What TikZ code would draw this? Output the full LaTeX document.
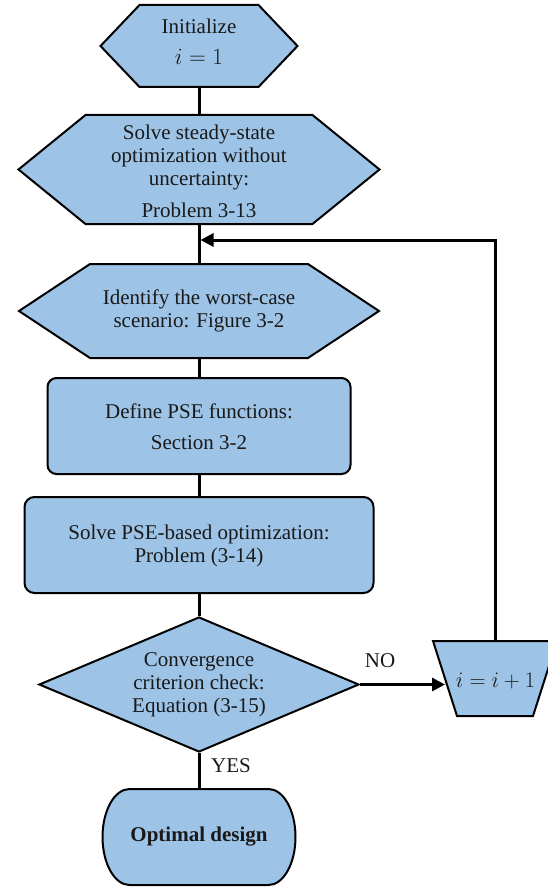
\documentclass[tikz,border=0pt]{standalone}
\usepackage{fontspec}
\setmainfont{Liberation Serif}
\usetikzlibrary{calc,arrows.meta,shapes.geometric}
\definecolor{boxfill}{HTML}{9DC3E6}

% hexagon drawn over an empty holder node: #1 = node name, #2 = corner inset
\newcommand{\drawhexagon}[2]{%
  \path[frame] (#1.west) -- ($(#1.north west)+(#2,0)$) -- ($(#1.north east)+(-#2,0)$)
    -- (#1.east) -- ($(#1.south east)+(-#2,0)$) -- ($(#1.south west)+(#2,0)$) -- cycle;}
% slightly enlarged maths
\newcommand{\bigmath}[2][1.1]{\scalebox{#1}{$#2$}}

\begin{document}
\begin{tikzpicture}[x=1pt,y=-1pt,
  txt/.style={align=center,font=\fontsize{21}{23}\selectfont,text=black!90,inner sep=0pt},
  frame/.style={draw=black,line width=2pt,fill=boxfill,line join=miter},
  holder/.style={draw=none,inner sep=0pt,outer sep=0pt},
  flow/.style={line width=3pt},
  arr/.style={flow,-{Triangle[length=13pt,width=13pt]}}]

\useasboundingbox (0,0) rectangle (548,888);

% ---- shape holders (empty, sized to the drawn outlines) ----
\node[holder,minimum width=197pt,minimum height=82pt]  (init)  at (199,46)    {};
\node[holder,minimum width=361pt,minimum height=109pt] (solve) at (199,169.5) {};
\node[holder,minimum width=360pt,minimum height=94pt]  (worst) at (199,311)   {};
\node[holder,minimum width=100pt,minimum height=75pt]  (inc)   at (495,678.5) {};
\node[holder,minimum width=193pt,minimum height=96pt]  (opt)   at (199,837)   {};

% ---- outlines ----
\drawhexagon{init}{39}
\drawhexagon{solve}{67}
\drawhexagon{worst}{71}

\node[frame,rounded corners=9pt,minimum width=303pt,minimum height=96pt,inner sep=0pt]
  (pse) at (199,426) {};
\node[frame,rounded corners=10pt,minimum width=349pt,minimum height=96pt,inner sep=0pt]
  (psopt) at (199,545) {};
\node[frame,diamond,minimum width=320pt,minimum height=135pt,inner sep=0pt]
  (conv) at (199,684.5) {};

% inverted trapezium for the counter update
\path[frame] ($(inc.north west)+(-12,0)$) -- ($(inc.north east)+(12,0)$)
  -- ($(inc.south east)+(-12,0)$) -- ($(inc.south west)+(12,0)$) -- cycle;

% terminal with elliptic ends
\path[frame] ($(opt.north west)+(27,0)$) -- ($(opt.north east)+(-27,0)$)
  arc[start angle=-90,end angle=90,x radius=27,y radius=48]
  -- ($(opt.south west)+(27,0)$)
  arc[start angle=90,end angle=270,x radius=27,y radius=48] -- cycle;

% ---- texts ----
\node[txt] (init-t)  at (199,42)    {Initialize\\[8pt]\bigmath[1.12]{i=1}};
\node[txt] (solve-t) at (199,171)   {Solve steady-state\\optimization without\\uncertainty:\\[9pt]Problem 3-13};
\node[txt] (worst-t) at (199,311)   {Identify the worst-case\\scenario: Figure 3-2};
\node[txt] (pse-t)   at (199,426.5) {Define PSE functions:\\[8pt]Section 3-2};
\node[txt] (psopt-t) at (199,545.5) {Solve PSE-based optimization:\\Problem (3-14)};
\node[txt] (conv-t)  at (199,684.5) {Convergence\\criterion check:\\Equation (3-15)};
\node[txt] (inc-t)   at (495.5,681) {\bigmath[1.07]{i=i+1}};
\node[txt] (opt-t)   at (199,837)   {\bfseries Optimal design};

\node[txt] (nolab)  at (380,661) {NO};
\node[txt] (yeslab) at (231,766) {YES};

% ---- connectors ----
\coordinate (back) at (199,240);
\draw[flow] (init.south) -- (solve.north);
\draw[flow] (solve.south) -- (worst.north);
\draw[flow] (worst.south) -- (pse.north);
\draw[flow] (pse.south) -- (psopt.north);
\draw[flow] (psopt.south) -- (conv.north);
\draw[flow] (conv.south) -- (opt.north);
\draw[arr] (conv.east) -- (conv.east -| inc.west);
\draw[arr,shorten >=1.5pt] (inc.north) |- (back);

\end{tikzpicture}
\end{document}
